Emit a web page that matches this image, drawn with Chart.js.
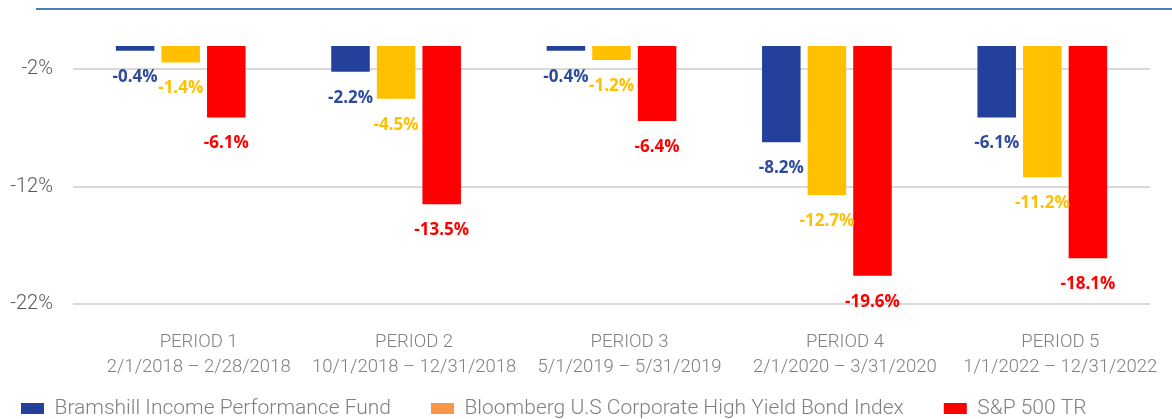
<!DOCTYPE html>
<html>
<head>
<meta charset="utf-8">
<script src="https://cdn.jsdelivr.net/npm/chart.js@4"></script>
<style>
    html, body { margin: 0; padding: 0; background: #fff; }
    #wrap { position: relative; width: 1172px; height: 419px; }
    #topRule { position: absolute; left: 36px; top: 8px; width: 1136px; height: 2px; background: #4a7ebb; }
    canvas { position: absolute; left: 0; top: 0; }
</style>
</head>
<body>
<div id="wrap">
    <div id="topRule"></div>
    <canvas id="chart" width="1172" height="419"></canvas>
</div>
<script>
// Periods shown on the x axis (two lines each)
const periods = [
    ['PERIOD 1', '2/1/2018 \u2013 2/28/2018'],
    ['PERIOD 2', '10/1/2018 \u2013 12/31/2018'],
    ['PERIOD 3', '5/1/2019 \u2013 5/31/2019'],
    ['PERIOD 4', '2/1/2020 \u2013 3/31/2020'],
    ['PERIOD 5', '1/1/2022 \u2013 12/31/2022']
];

// Returns per period (%)
const bramshill = [-0.4, -2.2, -0.4, -8.2, -6.1];
const bloomberg = [-1.4, -4.5, -1.2, -12.7, -11.2];
const sp500 = [-6.1, -13.5, -6.4, -19.6, -18.1];

// Y axis ticks
const yTicks = [-22, -12, -2];

const seriesNames = [
    'Bramshill Income Performance Fund',
    'Bloomberg U.S Corporate High Yield Bond Index',
    'S&P 500 TR'
];

// Colors
const barColors = ['#23409a', '#ffc000', '#ff0000'];
const labelColors = ['#2e4a9e', '#ffc000', '#ff0000'];
const legendColors = ['#23409a', '#f79646', '#ff0000'];

// Draw value labels under each bar end
const valueLabels = {
    id: 'valueLabels',
    afterDatasetsDraw(chart) {
        const ctx = chart.ctx;
        ctx.save();
        ctx.font = 'bold 17px "Open Sans", sans-serif';
        ctx.textAlign = 'center';
        ctx.textBaseline = 'middle';
        chart.data.datasets.forEach((ds, i) => {
            const meta = chart.getDatasetMeta(i);
            ctx.fillStyle = labelColors[i];
            meta.data.forEach((bar, j) => {
                ctx.fillText(ds.data[j].toFixed(1) + '%', bar.x, bar.y + 26);
            });
        });
        ctx.restore();
    }
};

// Pull the legend up a little closer to the period labels
const legendNudge = {
    id: 'legendNudge',
    afterLayout(chart) {
        const legend = chart.legend;
        legend.top = chart.chartArea.bottom + 54;
        legend.bottom = legend.top + legend.height;
    }
};

const ctx = document.getElementById('chart').getContext('2d');

new Chart(ctx, {
    type: 'bar',
    data: {
        labels: periods,
        datasets: [
            { label: seriesNames[0], data: bramshill, backgroundColor: barColors[0] },
            { label: seriesNames[1], data: bloomberg, backgroundColor: barColors[1] },
            { label: seriesNames[2], data: sp500, backgroundColor: barColors[2] }
        ]
    },
    options: {
        responsive: false,
        animation: false,
        devicePixelRatio: 1,
        layout: {
            padding: { left: -19, right: 22, top: 46, bottom: -30 }
        },
        datasets: {
            bar: {
                categoryPercentage: 0.635,
                barPercentage: 0.845,
                borderWidth: 0
            }
        },
        scales: {
            x: {
                grid: { display: false, drawTicks: false },
                border: { display: false },
                ticks: {
                    color: '#808080',
                    font: { family: 'Roboto', size: 18.5, weight: '300', lineHeight: 1.35 },
                    padding: 26,
                    labelOffset: 18,
                    maxRotation: 0,
                    autoSkip: false
                },
                afterFit(scale) {
                    scale.height = 74;
                }
            },
            y: {
                min: -22,
                max: 0,
                grid: { color: '#d9d9d9', lineWidth: 2, drawTicks: false },
                border: { display: false },
                afterBuildTicks(scale) {
                    scale.ticks = yTicks.map(v => ({ value: v }));
                },
                ticks: {
                    color: '#595959',
                    font: { family: 'Roboto', size: 20, weight: '300' },
                    padding: 20,
                    callback: v => v + '%'
                },
                afterFit(scale) {
                    scale.width = 92;
                }
            }
        },
        plugins: {
            tooltip: { enabled: false },
            legend: {
                position: 'bottom',
                align: 'start',
                labels: {
                    boxWidth: 23,
                    boxHeight: 11,
                    padding: 40,
                    color: '#808080',
                    font: { family: 'Roboto', size: 21, weight: '300' },
                    generateLabels(chart) {
                        return chart.data.datasets.map((ds, i) => ({
                            text: ds.label,
                            fillStyle: legendColors[i],
                            strokeStyle: legendColors[i],
                            lineWidth: 0,
                            fontColor: '#808080',
                            datasetIndex: i
                        }));
                    }
                }
            }
        }
    },
    plugins: [valueLabels, legendNudge]
});
</script>
</body>
</html>
